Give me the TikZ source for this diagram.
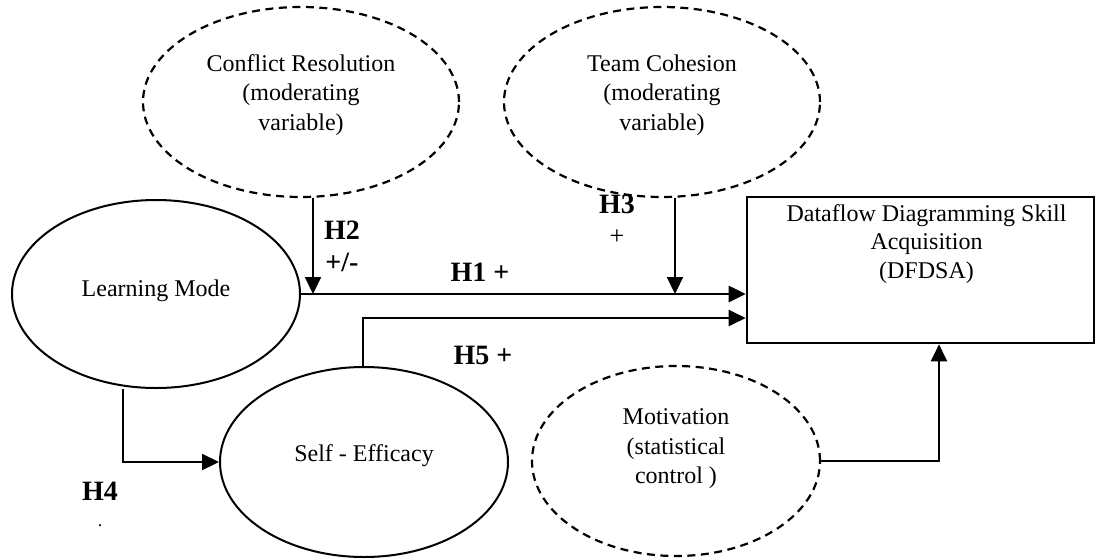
\documentclass[tikz,border=0pt]{standalone}
\usepackage{fontspec}
\setmainfont{Liberation Serif}
\usetikzlibrary{shapes.geometric,arrows.meta}
\tikzset{
  ell/.style={ellipse, draw, line width=2pt, inner sep=0pt},
  dell/.style={ell, line width=2.2pt, dash pattern=on 8pt off 5.5pt},
  txt/.style={align=center, anchor=center, inner sep=0pt, font=\fontsize{24}{29.5}\selectfont},
  arr/.style={line width=2.2pt, -{Triangle[length=17pt,width=16pt]}},
  hlab/.style={font=\fontsize{28}{30}\selectfont\bfseries, inner sep=0pt},
  plab/.style={font=\fontsize{26}{30}\selectfont, inner sep=0pt}
}
\begin{document}
\begin{tikzpicture}[x=1pt,y=-1pt]
\useasboundingbox (0,0) rectangle (1098,558);
\node[dell, minimum width=316pt, minimum height=190pt,
  label={[txt, yshift=7pt]center:Conflict Resolution\\(moderating\\variable)}] (cr) at (301,102) {};
\node[dell, minimum width=316pt, minimum height=190pt,
  label={[txt, yshift=7pt]center:Team Cohesion\\(moderating\\variable)}] (tc) at (662,102) {};
\node[ell, minimum width=288pt, minimum height=188pt,
  label={[txt, yshift=3pt]center:Learning Mode}] (lm) at (156,294) {};
\node[ell, minimum width=288pt, minimum height=190pt,
  label={[txt, yshift=6pt]center:Self - Efficacy}] (se) at (364,462) {};
\node[dell, minimum width=288pt, minimum height=190pt,
  label={[txt, yshift=12pt]center:Motivation\\(statistical\\control )}] (mo) at (676,461) {};
\node[draw, line width=2.6pt, minimum width=347pt, minimum height=146pt, inner sep=0pt,
  label={[align=center, anchor=north, yshift=-5pt, xshift=6pt,
  font=\fontsize{24}{28.5}\selectfont]north:Dataflow Diagramming Skill\\Acquisition\\(DFDSA)}]
  (rect) at (920.5,270) {};
% connectors
\draw[arr, line width=2.8pt] (lm.east) -- (lm.east -| rect.west);
\draw[arr] ([xshift=12pt]cr.south) -- ([xshift=12pt]cr.south |- lm.east);
\draw[arr] ([xshift=13pt]tc.south) -- ([xshift=13pt]tc.south |- lm.east);
\draw[arr] ([xshift=-1pt]se.north) |- ([yshift=-48pt]rect.west);
\draw[arr] ([xshift=-33pt]lm.south) |- (se.west);
\draw[arr] (mo.east) -| ([xshift=18.5pt]rect.south);
% labels
\node[hlab] (h2) at (342,230) {H2};
\node[hlab] (h2s) at (342,262) {+/-};
\node[hlab] (h3) at (617,204) {H3};
\node[plab] (h3s) at (617,237) {+};
\node[hlab] (h1) at (480,272) {H1 +};
\node[hlab] (h5) at (483,355) {H5 +};
\node[hlab] (h4) at (100,491) {H4};
\node[font=\fontsize{18}{20}\selectfont, inner sep=0pt] (h4d) at (100,526) {.};
\end{tikzpicture}
\end{document}
